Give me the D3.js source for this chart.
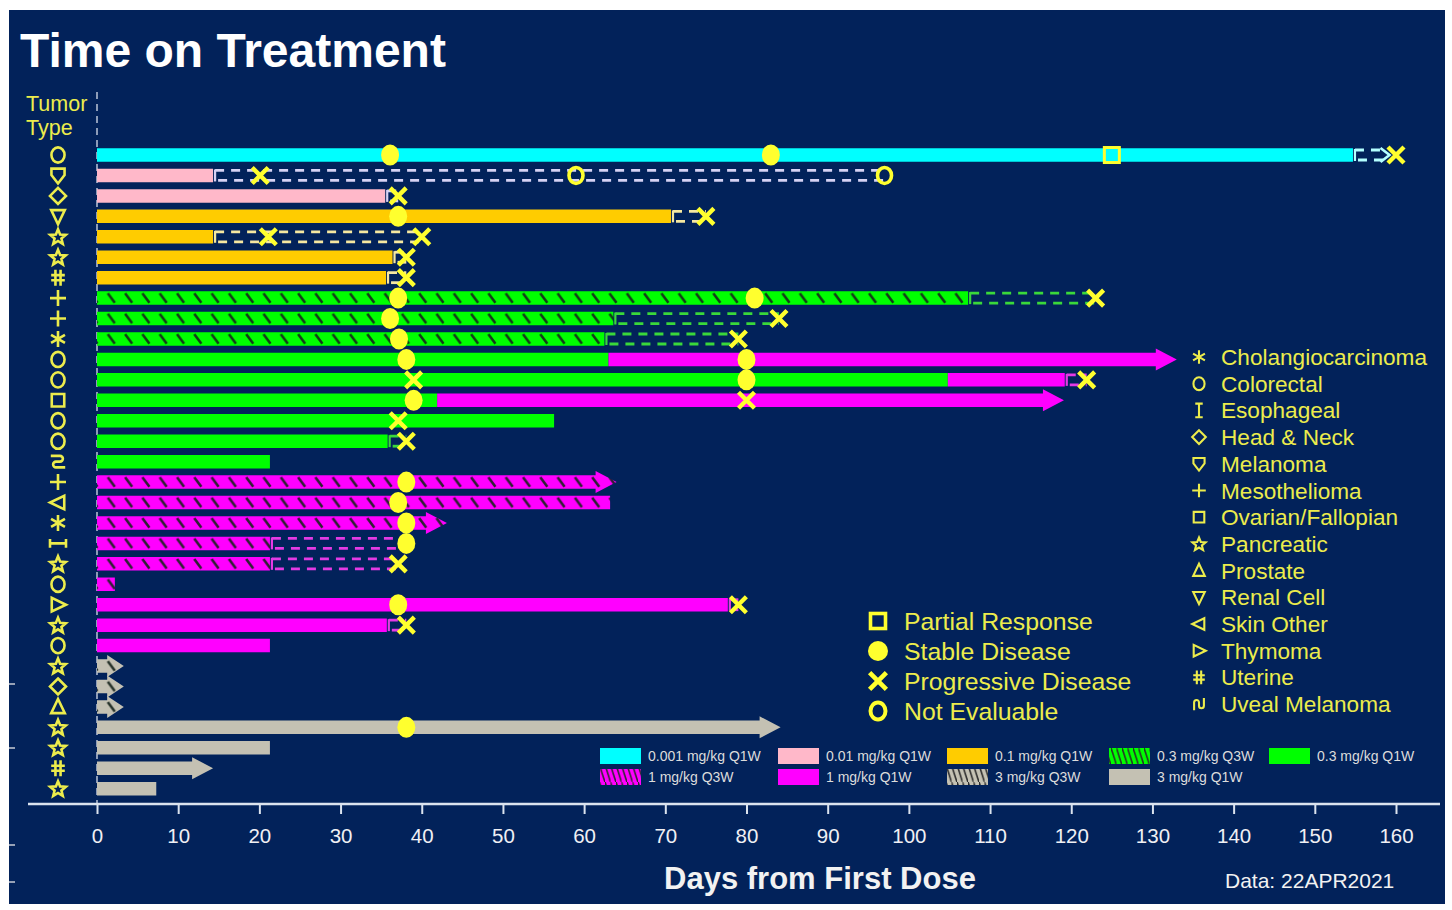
<!DOCTYPE html>
<html>
<head>
<meta charset="utf-8">
<script src="https://cdn.jsdelivr.net/npm/d3@7"></script>
<style>
  html, body { margin: 0; padding: 0; background: #ffffff; }
  svg { display: block; font-family: "Liberation Sans", Arial, Helvetica, sans-serif; }
</style>
</head>
<body>
<svg id="chart" width="1452" height="910"></svg>
<script>
// ---- Dose cohorts ----
const doseLabels  = ["0.001 mg/kg Q1W", "0.01 mg/kg Q1W", "0.1 mg/kg Q1W", "0.3 mg/kg Q3W", "0.3 mg/kg Q1W",
                     "1 mg/kg Q3W", "1 mg/kg Q1W", "3 mg/kg Q3W", "3 mg/kg Q1W"];
const doseColors  = ["#00ffff", "#ffb8c9", "#ffcc00", "#00ff00", "#00ff00", "#ff00ff", "#ff00ff", "#c4c1b3", "#c4c1b3"];
const doseHatched = [false, false, false, true, false, true, false, true, false];
const followColors = ["#b4ffff", "#d6d2f4", "#f6e8a0", "#3ad83a", "#3ad83a", "#e43ae4", "#e43ae4", "#d4d2c8", "#d4d2c8"];

// ---- Tumor types and their glyphs ----
const tumorTypes  = ["Cholangiocarcinoma", "Colorectal", "Esophageal", "Head & Neck", "Melanoma", "Mesothelioma",
                     "Ovarian/Fallopian", "Pancreatic", "Prostate", "Renal Cell", "Skin Other", "Thymoma",
                     "Uterine", "Uveal Melanoma"];
const tumorGlyphs = ["asterisk", "circle", "ibeam", "diamond", "shield", "plus", "square", "star",
                     "triUp", "triDown", "triLeft", "triRight", "hash", "uveal"];

// ---- Patients (top to bottom) ----
const rowTumor = ["Colorectal", "Melanoma", "Head & Neck", "Renal Cell", "Pancreatic", "Pancreatic", "Uterine",
                  "Mesothelioma", "Mesothelioma", "Cholangiocarcinoma", "Colorectal", "Colorectal",
                  "Ovarian/Fallopian", "Colorectal", "Colorectal", "Uveal Melanoma", "Mesothelioma", "Prostate",
                  "Cholangiocarcinoma", "Esophageal", "Pancreatic", "Colorectal", "Renal Cell", "Pancreatic",
                  "Colorectal", "Pancreatic", "Head & Neck", "Prostate", "Pancreatic", "Pancreatic", "Uterine",
                  "Pancreatic"];
// rows whose tumor glyph is drawn turned a quarter turn
const turnedGlyphRows = [15, 17, 19, 22];
// first dose cohort and last day on it
const rowDose = [0, 1, 1, 2, 2, 2, 2, 3, 3, 3, 4, 4, 4, 4, 4, 4, 5, 5, 5, 5, 5, 5, 6, 6, 6, 7, 7, 7, 8, 8, 8, 8];
const rowEnd  = [154.7, 14.3, 35.5, 70.7, 14.3, 36.4, 35.6, 107.3, 63.6, 62.5, 63.0, 104.8, 41.9, 56.3, 35.8, 21.3,
                 64.0, 63.2, 43.1, 21.3, 21.3, 2.2, 77.7, 35.7, 21.3, 3.3, 3.3, 3.3, 84.2, 21.3, 14.3, 7.3];
// escalated cohort (if any) and last day on it
const rowDose2 = [null, null, null, null, null, null, null, null, null, null, 6, 6, 6, null, null, null,
                  null, null, null, null, null, null, null, null, null, null, null, null, null, null, null, null];
const rowEnd2  = [null, null, null, null, null, null, null, null, null, null, 133.0, 119.2, 119.1, null, null, null,
                  null, null, null, null, null, null, null, null, null, null, null, null, null, null, null, null];
// still on treatment
const rowOngoing = [false, false, false, false, false, false, false, false, false, false, true, false, true, false,
                    false, false, true, false, true, false, false, false, false, false, false, true, true, true,
                    true, false, true, false];
// follow-up after treatment end (dashed), last day
const rowFollowUp = [159.2, 97.0, 37.1, 75.0, 40.0, 38.1, 38.1, 123.0, 84.0, 79.0, null, 121.9, null, null, 38.1, null,
                     null, null, null, 38.1, 37.1, null, 79.0, 38.1, null, null, null, null, null, null, null, null];
const followUpOpenRows = [0];

// ---- Tumor assessments ----
const respRow  = [0, 0, 0, 0, 1, 1, 1, 2, 3, 3, 4, 4, 5, 6, 7, 7, 7, 8, 8, 9, 9, 10, 10, 11, 11, 11, 12, 12,
                  13, 14, 16, 17, 18, 19, 20, 22, 22, 23, 28];
const respDay  = [36.1, 83.0, 125.0, 160.0, 20.1, 59.0, 97.0, 37.1, 37.1, 75.0, 21.1, 40.0, 38.1, 38.1, 37.1, 81.0,
                  123.0, 36.1, 84.0, 37.2, 79.0, 38.1, 80.0, 39.0, 80.0, 121.9, 39.0, 80.0, 37.1, 38.1, 38.1, 37.1,
                  38.1, 38.1, 37.1, 37.1, 79.0, 38.1, 38.1];
const respType = ["SD", "SD", "PR", "PD", "PD", "NE", "NE", "PD", "SD", "PD", "PD", "PD", "PD", "PD", "SD", "SD",
                  "PD", "SD", "PD", "SD", "PD", "SD", "SD", "PD", "SD", "PD", "SD", "PD", "PD", "PD", "SD", "SD",
                  "SD", "SD", "PD", "SD", "PD", "PD", "SD"];
const respKeys   = ["PR", "SD", "PD", "NE"];
const respLabels = ["Partial Response", "Stable Disease", "Progressive Disease", "Not Evaluable"];

const xTicks = d3.range(0, 161, 10);

// ---- Layout ----
const W = 1452, H = 910;
const navy = "#02225a";
const yellow = "#ffff2e";
const glyphYellow = "#ecec4c";
const nRows = rowTumor.length;

const svg = d3.select("#chart");
svg.append("rect").attr("width", W).attr("height", H).attr("fill", "#ffffff");
svg.append("rect").attr("x", 9).attr("y", 10).attr("width", 1436).attr("height", 894).attr("fill", navy);

const x = d3.scaleLinear().domain([0, 160]).range([97, 1396]);
const y = d3.scaleBand().domain(d3.range(nRows)).range([144.8, 798.9]);
const step = y.step();
const cy = i => y(i) + step / 2;
const barH = 13.5;

// ---- Hatch patterns ----
const defs = svg.append("defs");
doseColors.forEach((c, i) => {
  if (!doseHatched[i]) return;
  const p = defs.append("pattern").attr("id", "hatch-" + i)
    .attr("patternUnits", "userSpaceOnUse")
    .attr("x", 0).attr("y", cy(0) - barH / 2)
    .attr("width", 17.3).attr("height", step);
  p.append("rect").attr("width", 17.3).attr("height", step).attr("fill", c);
  p.append("line").attr("x1", 4).attr("y1", 2).attr("x2", 11).attr("y2", barH - 2)
    .attr("stroke", "#16241c").attr("stroke-opacity", 0.9).attr("stroke-width", 2.6);
  const q = defs.append("pattern").attr("id", "lhatch-" + i)
    .attr("patternUnits", "userSpaceOnUse")
    .attr("width", 5.5).attr("height", 17);
  q.append("rect").attr("width", 5.5).attr("height", 17).attr("fill", c);
  q.append("line").attr("x1", 0).attr("y1", 0).attr("x2", 5.5).attr("y2", 17)
    .attr("stroke", "#2a2a2a").attr("stroke-width", 1.6);
});
const doseFill = d => doseHatched[d] ? `url(#hatch-${d})` : doseColors[d];
const legendFill = d => doseHatched[d] ? `url(#lhatch-${d})` : doseColors[d];

// ---- Zero line ----
svg.append("line")
  .attr("x1", x(0)).attr("x2", x(0)).attr("y1", 92).attr("y2", 804)
  .attr("stroke", "#8d9cb8").attr("stroke-width", 2).attr("stroke-dasharray", "7,5");

// ---- Bars ----
function barPath(x0, x1, c, arrow) {
  const t = c - barH / 2, b = c + barH / 2;
  if (!arrow) return `M${x0},${t}H${x1}V${b}H${x0}Z`;
  const head = Math.min(21, (x1 - x0) * 0.62);
  const hh = 11;
  const hx = x1 - head;
  return `M${x0},${t}H${hx}V${c - hh}L${x1},${c}L${hx},${c + hh}V${b}H${x0}Z`;
}

const segs = [];
d3.range(nRows).forEach(i => {
  const hasSecond = rowDose2[i] !== null;
  segs.push({ i, dose: rowDose[i], from: 0, to: rowEnd[i], arrow: rowOngoing[i] && !hasSecond });
  if (hasSecond) segs.push({ i, dose: rowDose2[i], from: rowEnd[i], to: rowEnd2[i], arrow: rowOngoing[i] });
});

svg.append("g").selectAll("path").data(segs).join("path")
  .attr("d", s => barPath(x(s.from), x(s.to), cy(s.i), s.arrow))
  .attr("fill", s => doseFill(s.dose));

// ---- Follow-up (dashed) ----
const fu = d3.range(nRows).filter(i => rowFollowUp[i] !== null).map(i => {
  const last = rowDose2[i] !== null ? rowDose2[i] : rowDose[i];
  const start = rowEnd2[i] !== null ? rowEnd2[i] : rowEnd[i];
  return { i, start, end: rowFollowUp[i], color: followColors[last], open: followUpOpenRows.includes(i) };
});
const fuG = svg.append("g");
fu.forEach(f => {
  const c = cy(f.i), xs = x(f.start) + 2, xe = x(f.end);
  const g = fuG.append("g").attr("stroke", f.color).attr("stroke-width", 2.8).attr("fill", "none");
  g.append("line").attr("x1", xs).attr("x2", xs).attr("y1", c - 6).attr("y2", c + 6).attr("stroke-width", 2.2);
  [-5, 5].forEach((dy, k) => {
    g.append("line").attr("x1", xs).attr("x2", f.open ? xe - 6 : xe).attr("y1", c + dy).attr("y2", c + dy)
      .attr("stroke-dasharray", "9,7").attr("stroke-dashoffset", k ? -3 : 0);
  });
  if (f.open) {
    g.append("path").attr("d", `M${xe - 9},${c - 7}L${xe},${c}L${xe - 9},${c + 7}`).attr("stroke-width", 2.6);
  }
});

// ---- Assessment markers ----
function drawMarker(sel, type, s) {
  s = s || 1;
  if (type === "SD") {
    sel.append("ellipse").attr("rx", 9 * s).attr("ry", 10.5 * s).attr("fill", yellow);
  } else if (type === "PD") {
    const a = 8 * s;
    sel.append("path").attr("d", `M${-a},${-a}L${a},${a}M${a},${-a}L${-a},${a}`)
      .attr("stroke", yellow).attr("stroke-width", 4.4 * s).attr("fill", "none");
  } else if (type === "NE") {
    sel.append("ellipse").attr("rx", 7 * s).attr("ry", 8 * s)
      .attr("fill", "none").attr("stroke", yellow).attr("stroke-width", 3.6 * s);
  } else if (type === "PR") {
    sel.append("rect").attr("x", -7.5 * s).attr("y", -7.5 * s).attr("width", 15 * s).attr("height", 15 * s)
      .attr("fill", "none").attr("stroke", yellow).attr("stroke-width", 3 * s);
  }
}
const mk = svg.append("g");
respRow.forEach((r, k) => {
  const g = mk.append("g").attr("transform", `translate(${x(respDay[k])},${cy(r)})`);
  drawMarker(g, respType[k]);
});

// ---- Tumor glyphs ----
function glyphPath(type, h) {
  switch (type) {
    case "circle": {
      const rx = h * 0.82, ry = h * 0.95;
      return `M${-rx},0A${rx},${ry} 0 1 0 ${rx},0A${rx},${ry} 0 1 0 ${-rx},0Z`;
    }
    case "square": return `M${-h * .78},${-h * .78}H${h * .78}V${h * .78}H${-h * .78}Z`;
    case "diamond": return `M0,${-h}L${h},0L0,${h}L${-h},0Z`;
    case "shield": return `M${-h * .82},${-h * .85}H${h * .82}V${-h * .05}L0,${h}L${-h * .82},${-h * .05}Z`;
    case "triDown": return `M${-h * .85},${-h * .78}H${h * .85}L0,${h}Z`;
    case "triUp": return `M${-h * .85},${h * .78}H${h * .85}L0,${-h}Z`;
    case "triLeft": return `M${h * .78},${-h * .85}V${h * .85}L${-h},0Z`;
    case "triRight": return `M${-h * .78},${-h * .85}V${h * .85}L${h},0Z`;
    case "plus": return `M${-h},0H${h}M0,${-h}V${h}`;
    case "hash": return `M${-h * .32},${-h}V${h}M${h * .32},${-h}V${h}M${-h * .85},${-h * .32}H${h * .85}M${-h * .85},${h * .32}H${h * .85}`;
    case "asterisk": return `M0,${-h}V${h}M${-h * .87},${-h * .5}L${h * .87},${h * .5}M${-h * .87},${h * .5}L${h * .87},${-h * .5}`;
    case "ibeam": return `M${-h * .55},${-h}H${h * .55}M0,${-h}V${h}M${-h * .55},${h}H${h * .55}`;
    case "uveal": {
      const r = h * .36;
      return `M${-h * .72},${h * .9}V${-h * .25}A${r},${r} 0 0 1 0,${-h * .25}V${h * .25}A${r},${r} 0 0 0 ${h * .72},${h * .25}V${-h * .9}`;
    }
    case "star": {
      const pts = d3.range(10).map(j => {
        const ang = -Math.PI / 2 + j * Math.PI / 5;
        const rr = j % 2 ? h * 0.45 : h * 1.02;
        return [rr * Math.cos(ang), rr * Math.sin(ang) + h * 0.08];
      });
      return "M" + pts.map(p => p.join(",")).join("L") + "Z";
    }
  }
  return "";
}
const glyphOf = t => tumorGlyphs[tumorTypes.indexOf(t)];

const col = svg.append("g");
rowTumor.forEach((t, i) => {
  const rot = turnedGlyphRows.includes(i) ? -90 : 0;
  col.append("path")
    .attr("transform", `translate(58,${cy(i)}) rotate(${rot})`)
    .attr("d", glyphPath(glyphOf(t), 8))
    .attr("fill", "none").attr("stroke", glyphYellow).attr("stroke-width", 2.6)
    .attr("stroke-linejoin", "miter");
});

svg.append("text").attr("x", 26).attr("y", 111).text("Tumor")
  .attr("fill", glyphYellow).attr("font-size", 21.5);
svg.append("text").attr("x", 26).attr("y", 135).text("Type")
  .attr("fill", glyphYellow).attr("font-size", 21.5);

// ---- Tumor type legend ----
const tl = svg.append("g");
tumorTypes.forEach((t, k) => {
  const yy = 357 + k * 26.7;
  tl.append("path").attr("transform", `translate(1199,${yy})`)
    .attr("d", glyphPath(tumorGlyphs[k], 6.8))
    .attr("fill", "none").attr("stroke", glyphYellow).attr("stroke-width", 2.1);
  tl.append("text").attr("x", 1221).attr("y", yy + 8).text(t)
    .attr("fill", glyphYellow).attr("font-size", 22.6);
});

// ---- Response legend ----
const rl = svg.append("g");
respKeys.forEach((key, k) => {
  const yy = 621 + k * 30;
  const g = rl.append("g").attr("transform", `translate(878,${yy})`);
  if (key === "SD") g.append("circle").attr("r", 10).attr("fill", yellow);
  else if (key === "NE") g.append("ellipse").attr("rx", 7.5).attr("ry", 8.5).attr("fill", "none").attr("stroke", yellow).attr("stroke-width", 4);
  else if (key === "PR") g.append("rect").attr("x", -7.5).attr("y", -7.5).attr("width", 15).attr("height", 15).attr("fill", "none").attr("stroke", yellow).attr("stroke-width", 3.6);
  else drawMarker(g, key, 1.05);
  rl.append("text").attr("x", 904).attr("y", yy + 8.5).text(respLabels[k])
    .attr("fill", glyphYellow).attr("font-size", 24.8);
});

// ---- Dose legend ----
const dl = svg.append("g");
const legendCols = [600, 778, 947, 1109, 1269];
doseLabels.forEach((lab, k) => {
  const r = Math.floor(k / 5), c = k % 5;
  const lx = legendCols[c], ly = 748 + r * 21;
  dl.append("rect").attr("x", lx).attr("y", ly).attr("width", 41).attr("height", 16)
    .attr("fill", legendFill(k));
  dl.append("text").attr("x", lx + 48).attr("y", ly + 13).text(lab)
    .attr("fill", "#dcdcdc").attr("font-size", 14);
});

// ---- X axis ----
const axisY = 804;
svg.append("line").attr("x1", 28).attr("x2", 1440).attr("y1", axisY).attr("y2", axisY)
  .attr("stroke", "#dbe3ee").attr("stroke-width", 2.5);
const ax = svg.append("g").attr("transform", `translate(0,${axisY})`)
  .call(d3.axisBottom(x).tickValues(xTicks).tickSize(10).tickPadding(14));
ax.select(".domain").remove();
ax.selectAll(".tick line").attr("stroke", "#dbe3ee").attr("stroke-width", 2);
ax.selectAll(".tick text").attr("fill", "#f0f0f4").attr("font-size", 20.5)
  .attr("font-family", "'Liberation Sans', Arial, sans-serif");

// small edge marks on the left border
svg.append("g").selectAll("line").data([684, 748, 845, 882]).join("line")
  .attr("x1", 9).attr("x2", 15).attr("y1", d => d).attr("y2", d => d)
  .attr("stroke", "#c8ccd6").attr("stroke-width", 1.5);

// ---- Titles ----
svg.append("text").attr("x", 20).attr("y", 67).text("Time on Treatment")
  .attr("fill", "#ffffff").attr("font-size", 48).attr("font-weight", "bold");
svg.append("text").attr("x", 820).attr("y", 889).attr("text-anchor", "middle").text("Days from First Dose")
  .attr("fill", "#f2f2f2").attr("font-size", 31).attr("font-weight", "bold");
svg.append("text").attr("x", 1225).attr("y", 888).text("Data: 22APR2021")
  .attr("fill", "#f2f2f2").attr("font-size", 21);
</script>
</body>
</html>
